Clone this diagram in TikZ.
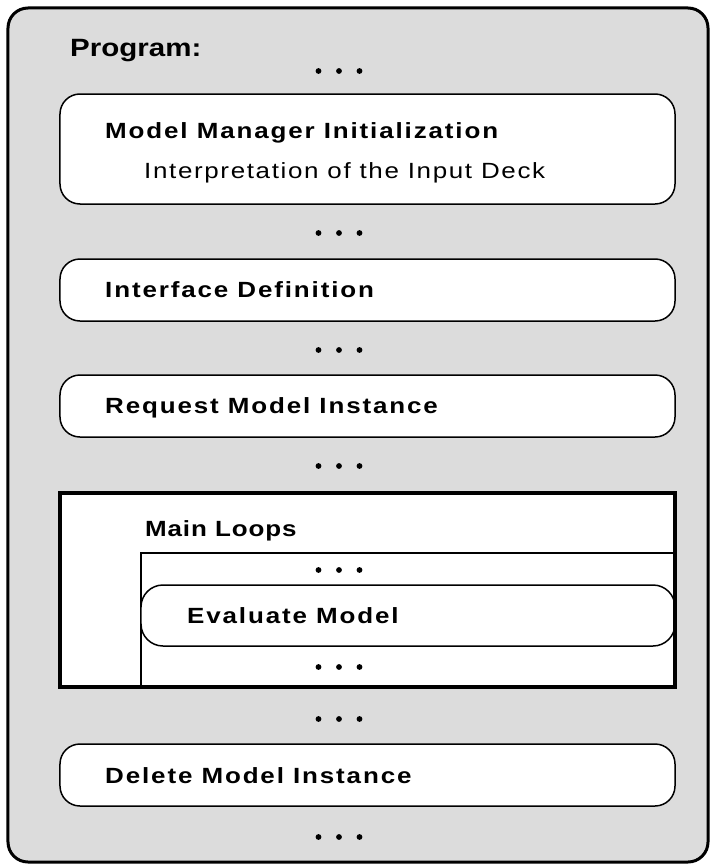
\documentclass[tikz,border=0pt]{standalone}
\usepackage{fontspec}
\setmainfont{Liberation Sans}
\newfontfamily\titlefont{Liberation Sans}[FakeStretch=1.18]
\newfontfamily\stepfont{Liberation Sans}[FakeStretch=1.18, LetterSpace=8.5]
\newfontfamily\loopfont{Liberation Sans}[FakeStretch=1.18, LetterSpace=4]
\newfontfamily\notefont{Liberation Sans}[FakeStretch=1.18, LetterSpace=7.5]
\definecolor{panelgray}{RGB}{220,220,220}

\tikzset{
  panel/.style={draw=black, fill=panelgray, line width=3bp, rounded corners=20bp,
    inner sep=0pt, outer sep=0pt},
  stepbox/.style={draw=black, fill=white, line width=1.5bp, rounded corners=20bp,
    inner sep=0pt, outer sep=0pt, minimum width=615bp},
  loopframe/.style={draw=black, fill=white, line width=3.2bp, inner sep=0pt, outer sep=0pt},
  innerframe/.style={draw=black, fill=white, line width=2.4bp, inner sep=0pt, outer sep=0pt},
  label/.style={anchor=base west, inner sep=0pt,
    font=\stepfont\bfseries\fontsize{22bp}{26bp}\selectfont},
  looplabel/.style={anchor=base west, inner sep=0pt,
    font=\loopfont\bfseries\fontsize{22bp}{26bp}\selectfont},
  sublabel/.style={anchor=base west, inner sep=0pt,
    font=\notefont\fontsize{22bp}{26bp}\selectfont},
  titlelabel/.style={anchor=base west, inner sep=0pt,
    font=\titlefont\bfseries\fontsize{25bp}{30bp}\selectfont},
  ellipsisdot/.style={fill=black},
}

\begin{document}
\begin{tikzpicture}[x=1bp, y=-1bp]
  \useasboundingbox (0,0) rectangle (715,865);

  % outer program panel
  \node[panel, minimum width=700bp, minimum height=854bp] (prog) at (358,435) {};
  \node[titlelabel] (progtitle) at (70,56) {Program:};

  % sequential steps
  \node[stepbox, minimum height=110bp] (init) at (367.5,149) {};
  \node[label] (initlbl) at (105,138.5) {Model Manager Initialization};
  \node[sublabel] (initsub) at (144,178.5) {Interpretation of the Input Deck};

  \node[stepbox, minimum height=62bp] (iface) at (367.5,290) {};
  \node[label] (ifacelbl) at (105,297.5) {Interface Definition};

  \node[stepbox, minimum height=62bp] (request) at (367.5,406) {};
  \node[label] (requestlbl) at (105,413.5) {Request Model Instance};

  % main loop block
  \node[loopframe, minimum width=615bp, minimum height=194bp] (loops) at (367.5,590) {};
  \node[looplabel] (loopslbl) at (145,536) {Main Loops};
  \node[innerframe, minimum width=534bp, minimum height=134bp] (inner) at (408,620) {};
  \node[stepbox, minimum width=534bp, minimum height=61bp, rounded corners=22bp]
    (evaluate) at (408,615.5) {};
  \node[label] (evaluatelbl) at (187,623.5) {Evaluate Model};
  % redraw the loop frame border on top
  \draw[line width=3.2bp] (loops.north west) rectangle (loops.south east);

  \node[stepbox, minimum height=62bp] (delete) at (367.5,775) {};
  \node[label] (deletelbl) at (105,783) {Delete Model Instance};

  % ellipsis rows between the steps
  \foreach \yy in {71,233,350,466,570,667,719,837}{
    \foreach \xx in {318.5,339,359.5}{
      \fill[ellipsisdot] (\xx,\yy) circle (2.9bp);
    }
  }
\end{tikzpicture}
\end{document}
